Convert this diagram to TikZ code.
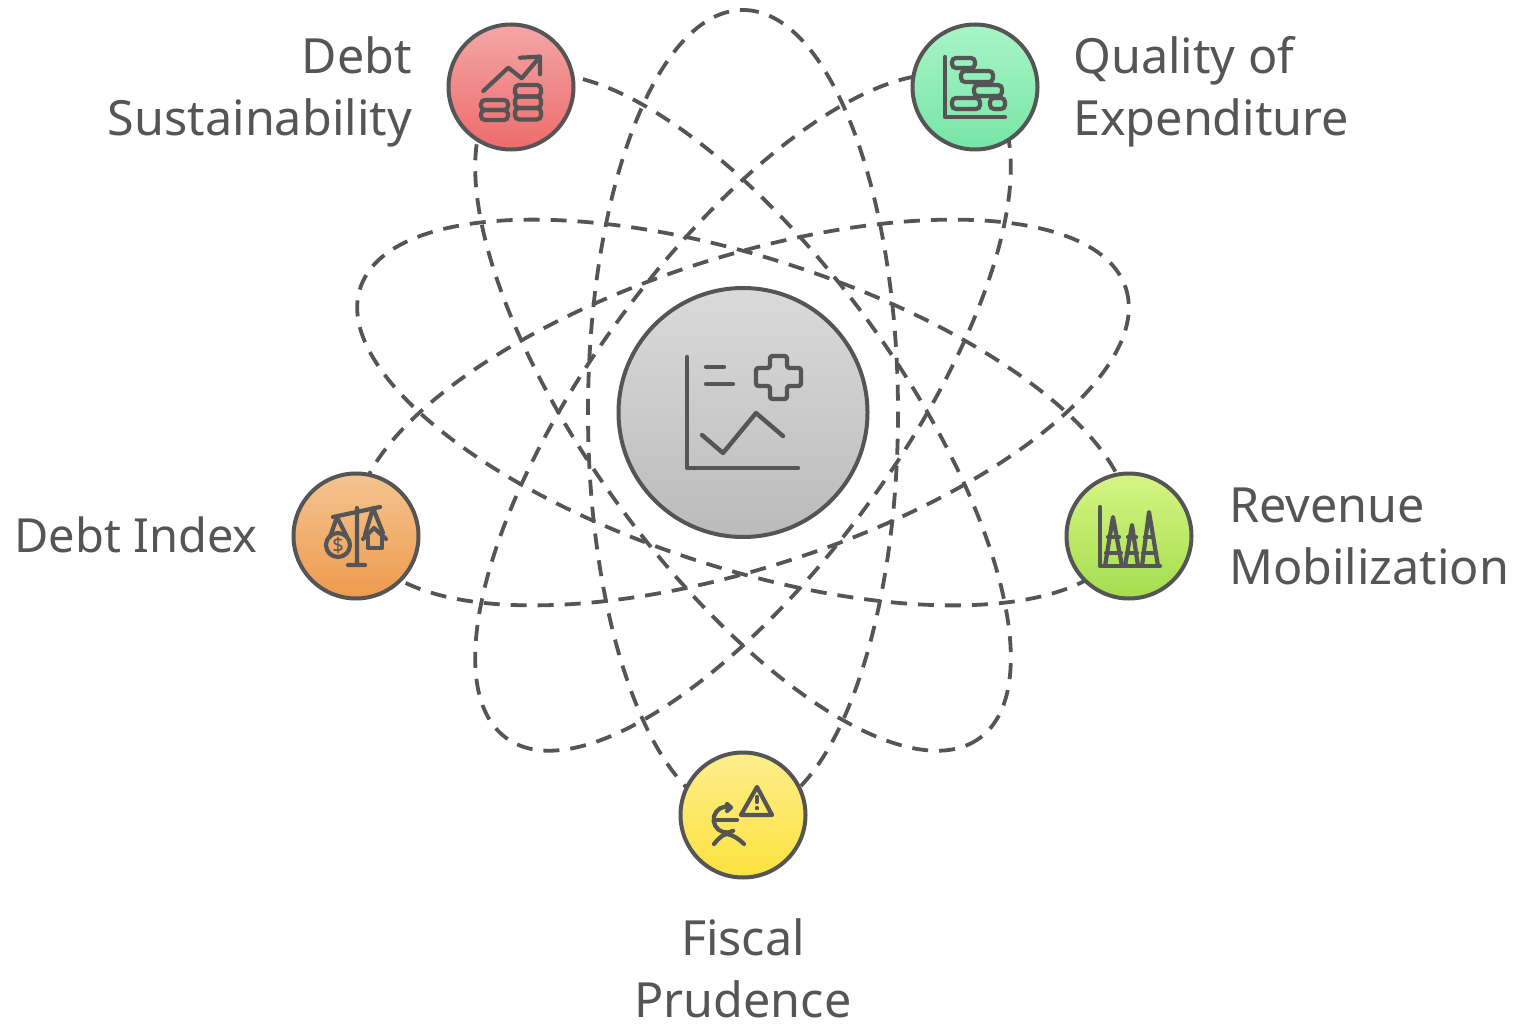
\documentclass[tikz,border=0pt]{standalone}
\usepackage{fontspec}
\setmainfont{Noto Sans}
\definecolor{ink}{HTML}{555555}
\definecolor{hubtop}{HTML}{DADADA}\definecolor{hubbot}{HTML}{BBBBBB}
\definecolor{redtop}{RGB}{244,166,166}\definecolor{redbot}{RGB}{238,107,107}
\definecolor{greentop}{RGB}{168,245,198}\definecolor{greenbot}{RGB}{118,229,165}
\definecolor{orangetop}{RGB}{244,196,144}\definecolor{orangebot}{RGB}{238,154,77}
\definecolor{limetop}{RGB}{214,245,132}\definecolor{limebot}{RGB}{163,221,78}
\definecolor{yellowtop}{RGB}{253,238,140}\definecolor{yellowbot}{RGB}{251,226,62}
\tikzset{
  orbit/.style={draw=ink,line width=3.8pt,dash pattern=on 16pt off 11pt,line cap=butt},
  hub/.style={circle,draw=ink,line width=4pt,inner sep=0pt,minimum size=125pt},
  core/.style={circle,draw=ink,line width=4pt,inner sep=0pt,minimum size=249pt,top color=hubtop,bottom color=hubbot},
  label/.style={text=ink,font=\fontsize{48.5pt}{62pt}\selectfont,inner sep=0pt},
  icon/.style={draw=ink,line width=4.2pt,line cap=round,line join=round},
  bigicon/.style={icon,line width=4.4pt},
  coin/.style={draw=ink,line width=4.2pt,rounded corners=4pt},
}
\begin{document}
\begin{tikzpicture}[x=1pt,y=-1pt]
\useasboundingbox (0,0) rectangle (1519,1024);
\coordinate (c) at (743,412.5);
% orbits
\foreach \a in {90,18,-18,54,-54}{
  \draw[orbit,rotate around={\a:(c)}] (c) ellipse [x radius=402.5,y radius=155];
}
% hubs
\node[core] (centre) at (c) {};
\node[hub,top color=redtop,bottom color=redbot] (sus) at (511,87) {};
\node[hub,top color=greentop,bottom color=greenbot] (qual) at (975,87) {};
\node[hub,top color=orangetop,bottom color=orangebot] (idx) at (356,536) {};
\node[hub,top color=limetop,bottom color=limebot] (rev) at (1129,536) {};
\node[hub,top color=yellowtop,bottom color=yellowbot] (fis) at (743,815) {};
% labels
\node[label,anchor=east,align=right] (tsus) at (412,92) {Debt\\Sustainability};
\node[label,anchor=west,align=left] (tqual) at (1073,92) {Quality of\\Expenditure};
\node[label,anchor=east,font=\fontsize{47pt}{62pt}\selectfont] (tidx) at (258,535) {Debt Index};
\node[label,anchor=west,align=left] (trev) at (1229,536) {Revenue\\Mobilization};
\node[label,align=center] (tfis) at (743,968) {Fiscal\\Prudence};
% centre icon
\draw[bigicon] (687,357) -- (687,468) -- (798,468);
\draw[bigicon] (706,367) -- (724,367) (706,384) -- (733,384);
\draw[bigicon] (702,435) -- (723,453) -- (756,413) -- (783,436);
\draw[bigicon,rounded corners=2.5pt] (770,356) -- (787,356) -- (787,368) -- (801,368) -- (801,386) -- (787,386) -- (787,399) -- (770,399) -- (770,386) -- (756,386) -- (756,368) -- (770,368) -- cycle;
% debt sustainability icon
\draw[icon] (483.3,91) -- (508.3,67.7) -- (521.7,78.3) -- (540,56.7);
\draw[icon] (520,57.7) -- (540,56.7) -- (540,74.3);
\foreach \y in {85,96.5,108}{\draw[coin] (515,\y) rectangle (541,\y+11.5);}
\foreach \y in {100,110}{\draw[coin] (481,\y) rectangle (508,\y+10);}
% quality icon
\draw[icon] (945,57) -- (945,117) -- (1005,117);
\draw[coin] (952,58) rectangle (975,68);
\draw[coin] (961,71) rectangle (993,82);
\draw[coin] (974,85) rectangle (1002,96);
\draw[coin] (952,98) rectangle (980,109);
\draw[coin] (990,98) rectangle (1005,109);
% debt index icon
\draw[icon] (333,517) -- (380,507) (357,508) -- (357,565) (348,565) -- (365,565);
\draw[icon] (330,537) -- (337,517) -- (347,537);
\draw[icon] (338,545) circle (12);
\node[text=ink,inner sep=0pt,font=\fontsize{20pt}{20pt}\selectfont] (dollar) at (338,545) {\$};
\draw[icon] (365,535) -- (373,508) -- (383,533);
\draw[icon] (363,539) -- (374,528) -- (386,539);
\draw[icon] (368,537) -- (368,548) -- (382,548) -- (382,537);
% revenue icon
\draw[icon] (1100,507) -- (1100,566) -- (1160,566);
\draw[icon] (1105,566) -- (1113,517) -- (1122,566);
\draw[icon] (1125,566) -- (1132,525) -- (1138,566);
\draw[icon] (1142,566) -- (1149,512) -- (1158,566);
\draw[icon] (1108,537) -- (1119,537) (1106,553) -- (1121,553)
           (1128,537) -- (1136,537) (1127,553) -- (1137,553)
           (1145,537) -- (1153,537) (1143,553) -- (1156,553);
% fiscal icon
\draw[icon] (757,787) -- (772,815) -- (741,815) -- cycle;
\draw[icon] (757,797) -- (757,802) (757,808) -- (757,808.2);
\draw[icon] (730,807) arc (-75:-300:13);
\draw[icon] (714,820) -- (737,820);
\draw[icon] (727,804) -- (731,807.5) -- (727,811);
\draw[icon] (714,844) .. controls (719,838) and (722,835) .. (727,834) .. controls (733,835) and (739,839) .. (744,844);
\end{tikzpicture}
\end{document}
